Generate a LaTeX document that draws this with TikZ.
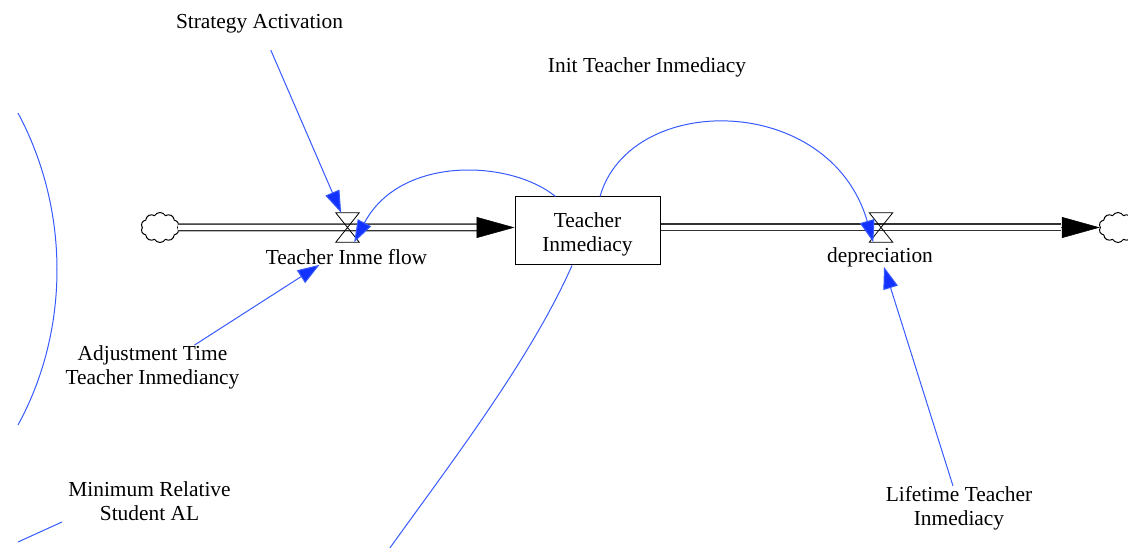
\documentclass[tikz,border=0pt]{standalone}
\usepackage{fontspec}
\setmainfont{Liberation Serif}
\usetikzlibrary{arrows.meta,shapes.symbols}
\definecolor{linkblue}{RGB}{55,90,255}
\definecolor{tipblue}{RGB}{20,50,255}
\definecolor{pipegray}{RGB}{50,50,50}
\tikzset{
 lbl/.style={font=\fontsize{21.4}{24}\selectfont, align=center, inner sep=0pt},
 stockbox/.style={draw, line width=1pt, minimum width=145pt, minimum height=68pt, inner sep=0pt, font=\fontsize{21.4}{24}\selectfont},
 valvebox/.style={minimum width=23pt, minimum height=29pt, inner sep=0pt},
 cloudnode/.style={cloud, cloud puffs=10, cloud puff arc=120, aspect=1.25, draw, line width=1pt, minimum width=38pt, minimum height=30pt, inner sep=0pt},
 pipe/.style={draw=pipegray, double=white, double distance=5pt, line width=1.5pt},
 flowtip/.style={-{Triangle[length=38pt,width=21pt]}, line width=0.5pt, black},
 link/.style={draw=linkblue, line width=1pt, -{Triangle[length=22pt,width=15pt,fill=tipblue]}},
 linkplain/.style={draw=linkblue, line width=1pt},
 valveline/.style={draw=black, line width=0.8pt},
}
\begin{document}
\begin{tikzpicture}[x=1pt,y=-1pt]
\useasboundingbox (0,0) rectangle (1128,548);
\clip (0,0) rectangle (1128,548);

% stock and clouds
\node[stockbox] (stock) at (587.5,231) {\raisebox{-9pt}[0pt][0pt]{\begin{tabular}{@{}c@{}}Teacher\\Inmediacy\end{tabular}}};
\node[cloudnode] (cL) at (160,227.5) {};
\node[cloudnode] (cR) at (1118,227.5) {};
\coordinate (aL) at (477,227.5);
\coordinate (aR) at (1061,227.5);

% pipes
\draw[pipe] (cL.east) -- (aL);
\draw[flowtip] (aL) -- (stock.west |- aL);
\draw[pipe] (stock.east |- aL) -- (aR);
\draw[flowtip] (aR) -- (cR.west);

% valves
\node[valvebox] (v1) at (347.5,227.5) {};
\node[valvebox] (v2) at (881,227.5) {};
\draw[valveline] (v1.north west) -- (v1.north east) -- (v1.south west) -- (v1.south east) -- cycle;
\draw[valveline] (v2.north west) -- (v2.north east) -- (v2.south west) -- (v2.south east) -- cycle;

% labels
\node[lbl] (fl) at (346.5,257) {Teacher Inme flow};
\node[lbl] (dep) at (880,257) {depreciation};
\node[lbl] (sa) at (259.5,24) {Strategy Activation};
\node[lbl] (init) at (647,67) {Init Teacher Inmediacy};
\node[lbl] (adj) at (152.5,367) {Adjustment Time\\Teacher Inmediancy};
\node[lbl] (minrel) at (149.5,501) {Minimum Relative\\Student AL};
\node[lbl] (lt) at (959,508) {Lifetime Teacher\\Inmediacy};

% links
\draw[link, shorten <=18pt] (sa) -- (v1);
\draw[link] ([xshift=42pt]adj.north) -- ([xshift=-27pt]fl.south);
\draw[link] ([xshift=-6pt]lt.north) -- ([xshift=4pt]dep.south);
\draw[link] ([xshift=-32pt]stock.north) .. controls +(-45.5,-37) and +(46,-87) .. ([xshift=-5pt]v1.south east);
\draw[link] ([xshift=12.5pt]stock.north) .. controls +(30,-105) and +(-43.5,-150) .. ([xshift=4pt]v2.south west);

% free-ended links
\coordinate (c1end) at (387,552);
\draw[linkplain] ([xshift=-15.5pt]stock.south) .. controls +(-42,95) and +(63,-88) .. (c1end);
\coordinate (la1) at (18,113);
\coordinate (la2) at (18,425);
\draw[linkplain] (la1) .. controls +(52,97) and +(52,-95) .. (la2);
\coordinate (sm1) at (18,542);
\coordinate (sm2) at (62,522);
\draw[linkplain] (sm1) -- (sm2);
\end{tikzpicture}
\end{document}
